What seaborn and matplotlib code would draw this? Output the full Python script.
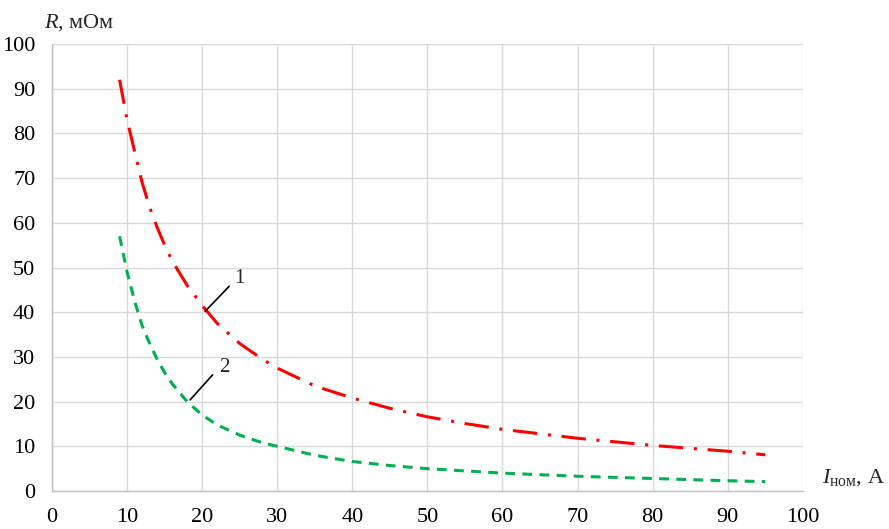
import matplotlib
matplotlib.use("Agg")
import matplotlib.pyplot as plt
import seaborn as sns
import pandas as pd

# Data
current_1 = [9, 10, 11, 12, 13, 14, 15, 16, 18, 20, 22, 25, 28, 30, 35, 40, 45, 50, 55, 60, 70, 80, 90, 95]
resist_1 = [92, 83, 76, 69, 63.5, 59, 55, 51.5, 46, 41.5, 37.5, 33, 29.5, 27.5, 23.5, 20.8, 18.5, 16.6, 15.1, 13.8, 11.8, 10.2, 8.9, 8.1]
current_2 = [9, 10, 11, 12, 13, 14, 15, 16, 18, 20, 22, 25, 28, 30, 35, 40, 45, 50, 60, 70, 80, 90, 95]
resist_2 = [57, 49, 42.5, 37, 33, 29.5, 26.5, 24, 20, 17, 14.8, 12.5, 10.8, 10, 8, 6.6, 5.7, 5, 4, 3.3, 2.8, 2.3, 2.1]
x_ticks = list(range(0, 101, 10))
y_ticks = list(range(0, 101, 10))

sns.set_theme(style="white")
plt.rcParams['font.family'] = ['Liberation Serif', 'DejaVu Serif']
plt.rcParams['mathtext.fontset'] = 'custom'
plt.rcParams['mathtext.rm'] = 'Liberation Serif'
plt.rcParams['mathtext.it'] = 'Liberation Serif:italic'

fig = plt.figure(figsize=(8.89, 5.29), dpi=100)
ax = fig.add_axes([0.0585, 0.0718, 0.8445, 0.845])

df1 = pd.DataFrame({"I": current_1, "R": resist_1})
df2 = pd.DataFrame({"I": current_2, "R": resist_2})
sns.lineplot(data=df1, x="I", y="R", ax=ax, color="#FF0000", linewidth=2.2)
sns.lineplot(data=df2, x="I", y="R", ax=ax, color="#00B050", linewidth=2.2)
ax.lines[0].set_dashes([8, 3.5, 1, 3.5])
ax.lines[1].set_dashes([3.2, 2.4])

ax.set_xlim(0, 100)
ax.set_ylim(0, 100)
ax.set_xticks(x_ticks)
ax.set_yticks(y_ticks)
ax.grid(True, color="#D9D9D9", linewidth=1)
ax.set_axisbelow(True)
for s in ["top", "right"]:
    ax.spines[s].set_visible(False)
for s in ["left", "bottom"]:
    ax.spines[s].set_color("#BFBFBF")
    ax.spines[s].set_linewidth(1)
ax.tick_params(axis="both", length=0, labelsize=16, colors="black")
ax.tick_params(axis="x", pad=12)
ax.tick_params(axis="y", pad=12)
ax.set_xlabel("")
ax.set_ylabel("")

fig.text(0.049, 0.958, r"$\mathit{R}$" + ", мОм", fontsize=16, ha="left", va="center")
fig.text(0.925, 0.098, r"$\mathit{I}_{\mathrm{ном}}$" + ", А", fontsize=16, ha="left", va="center")

# leader lines and labels
ax.plot([20.4, 23.6], [40.2, 45.8], color="black", linewidth=1.2)
ax.text(24.3, 47.5, "1", fontsize=15, ha="left", va="center")
ax.plot([18.4, 21.4], [20.4, 26.0], color="black", linewidth=1.2)
ax.text(22.2, 27.6, "2", fontsize=15, ha="left", va="center")

fig.savefig("out.png", dpi=100)
